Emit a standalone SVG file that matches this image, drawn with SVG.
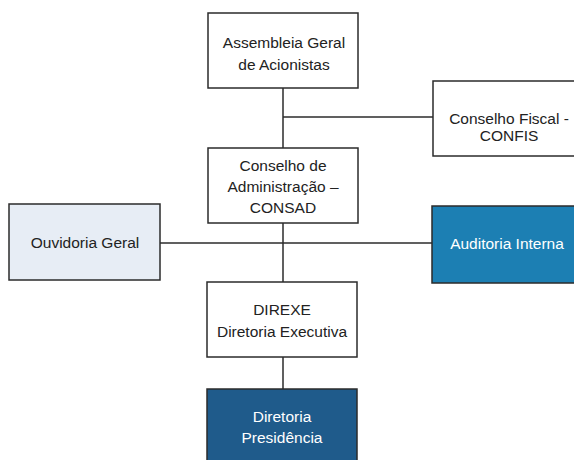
<svg xmlns="http://www.w3.org/2000/svg" width="574" height="460" viewBox="0 0 574 460">
<style>
.box{stroke:#2b2b2b;stroke-width:1.5}
.w{fill:#ffffff}
.t{font-family:"Liberation Sans",Arial,sans-serif;font-size:15.5px;fill:#222;text-anchor:middle}
.tw{fill:#ffffff}
.c{stroke:#2b2b2b;stroke-width:1.5;fill:none}
</style>
<rect width="574" height="460" fill="#ffffff"/>
<g id="connectors">
<line class="c" x1="283" y1="88" x2="283" y2="148"/>
<line class="c" x1="283" y1="117" x2="433" y2="117"/>
<line class="c" x1="283" y1="223" x2="283" y2="282"/>
<line class="c" x1="160" y1="243" x2="432" y2="243"/>
<line class="c" x1="283" y1="357" x2="283" y2="389"/>
</g>
<g id="assembleia">
<rect class="box w" x="208" y="13" width="150" height="75"/>
<text class="t" x="284" y="48">Assembleia Geral</text>
<text class="t" x="284" y="70">de Acionistas</text>
</g>
<g id="confis">
<rect class="box w" x="433" y="81" width="160" height="75"/>
<text class="t" x="509" y="124">Conselho Fiscal -</text>
<text class="t" x="509" y="141">CONFIS</text>
</g>
<g id="consad">
<rect class="box w" x="208" y="148" width="150" height="75"/>
<text class="t" x="283" y="171">Conselho de</text>
<text class="t" x="283" y="192">Administração –</text>
<text class="t" x="283" y="213">CONSAD</text>
</g>
<g id="ouvidoria">
<rect class="box" x="9" y="204" width="151" height="76" fill="#e7edf5"/>
<text class="t" x="85" y="248">Ouvidoria Geral</text>
</g>
<g id="auditoria">
<rect class="box" x="432" y="206" width="160" height="77" fill="#1c7fb3"/>
<text class="t tw" x="507" y="249">Auditoria Interna</text>
</g>
<g id="direxe">
<rect class="box w" x="207" y="282" width="150" height="75"/>
<text class="t" x="282" y="315">DIREXE</text>
<text class="t" x="282" y="337">Diretoria Executiva</text>
</g>
<g id="presidencia">
<rect class="box" x="207" y="389" width="150" height="80" fill="#1f5b8b"/>
<text class="t tw" x="282" y="422">Diretoria</text>
<text class="t tw" x="282" y="443">Presidência</text>
</g>
</svg>
